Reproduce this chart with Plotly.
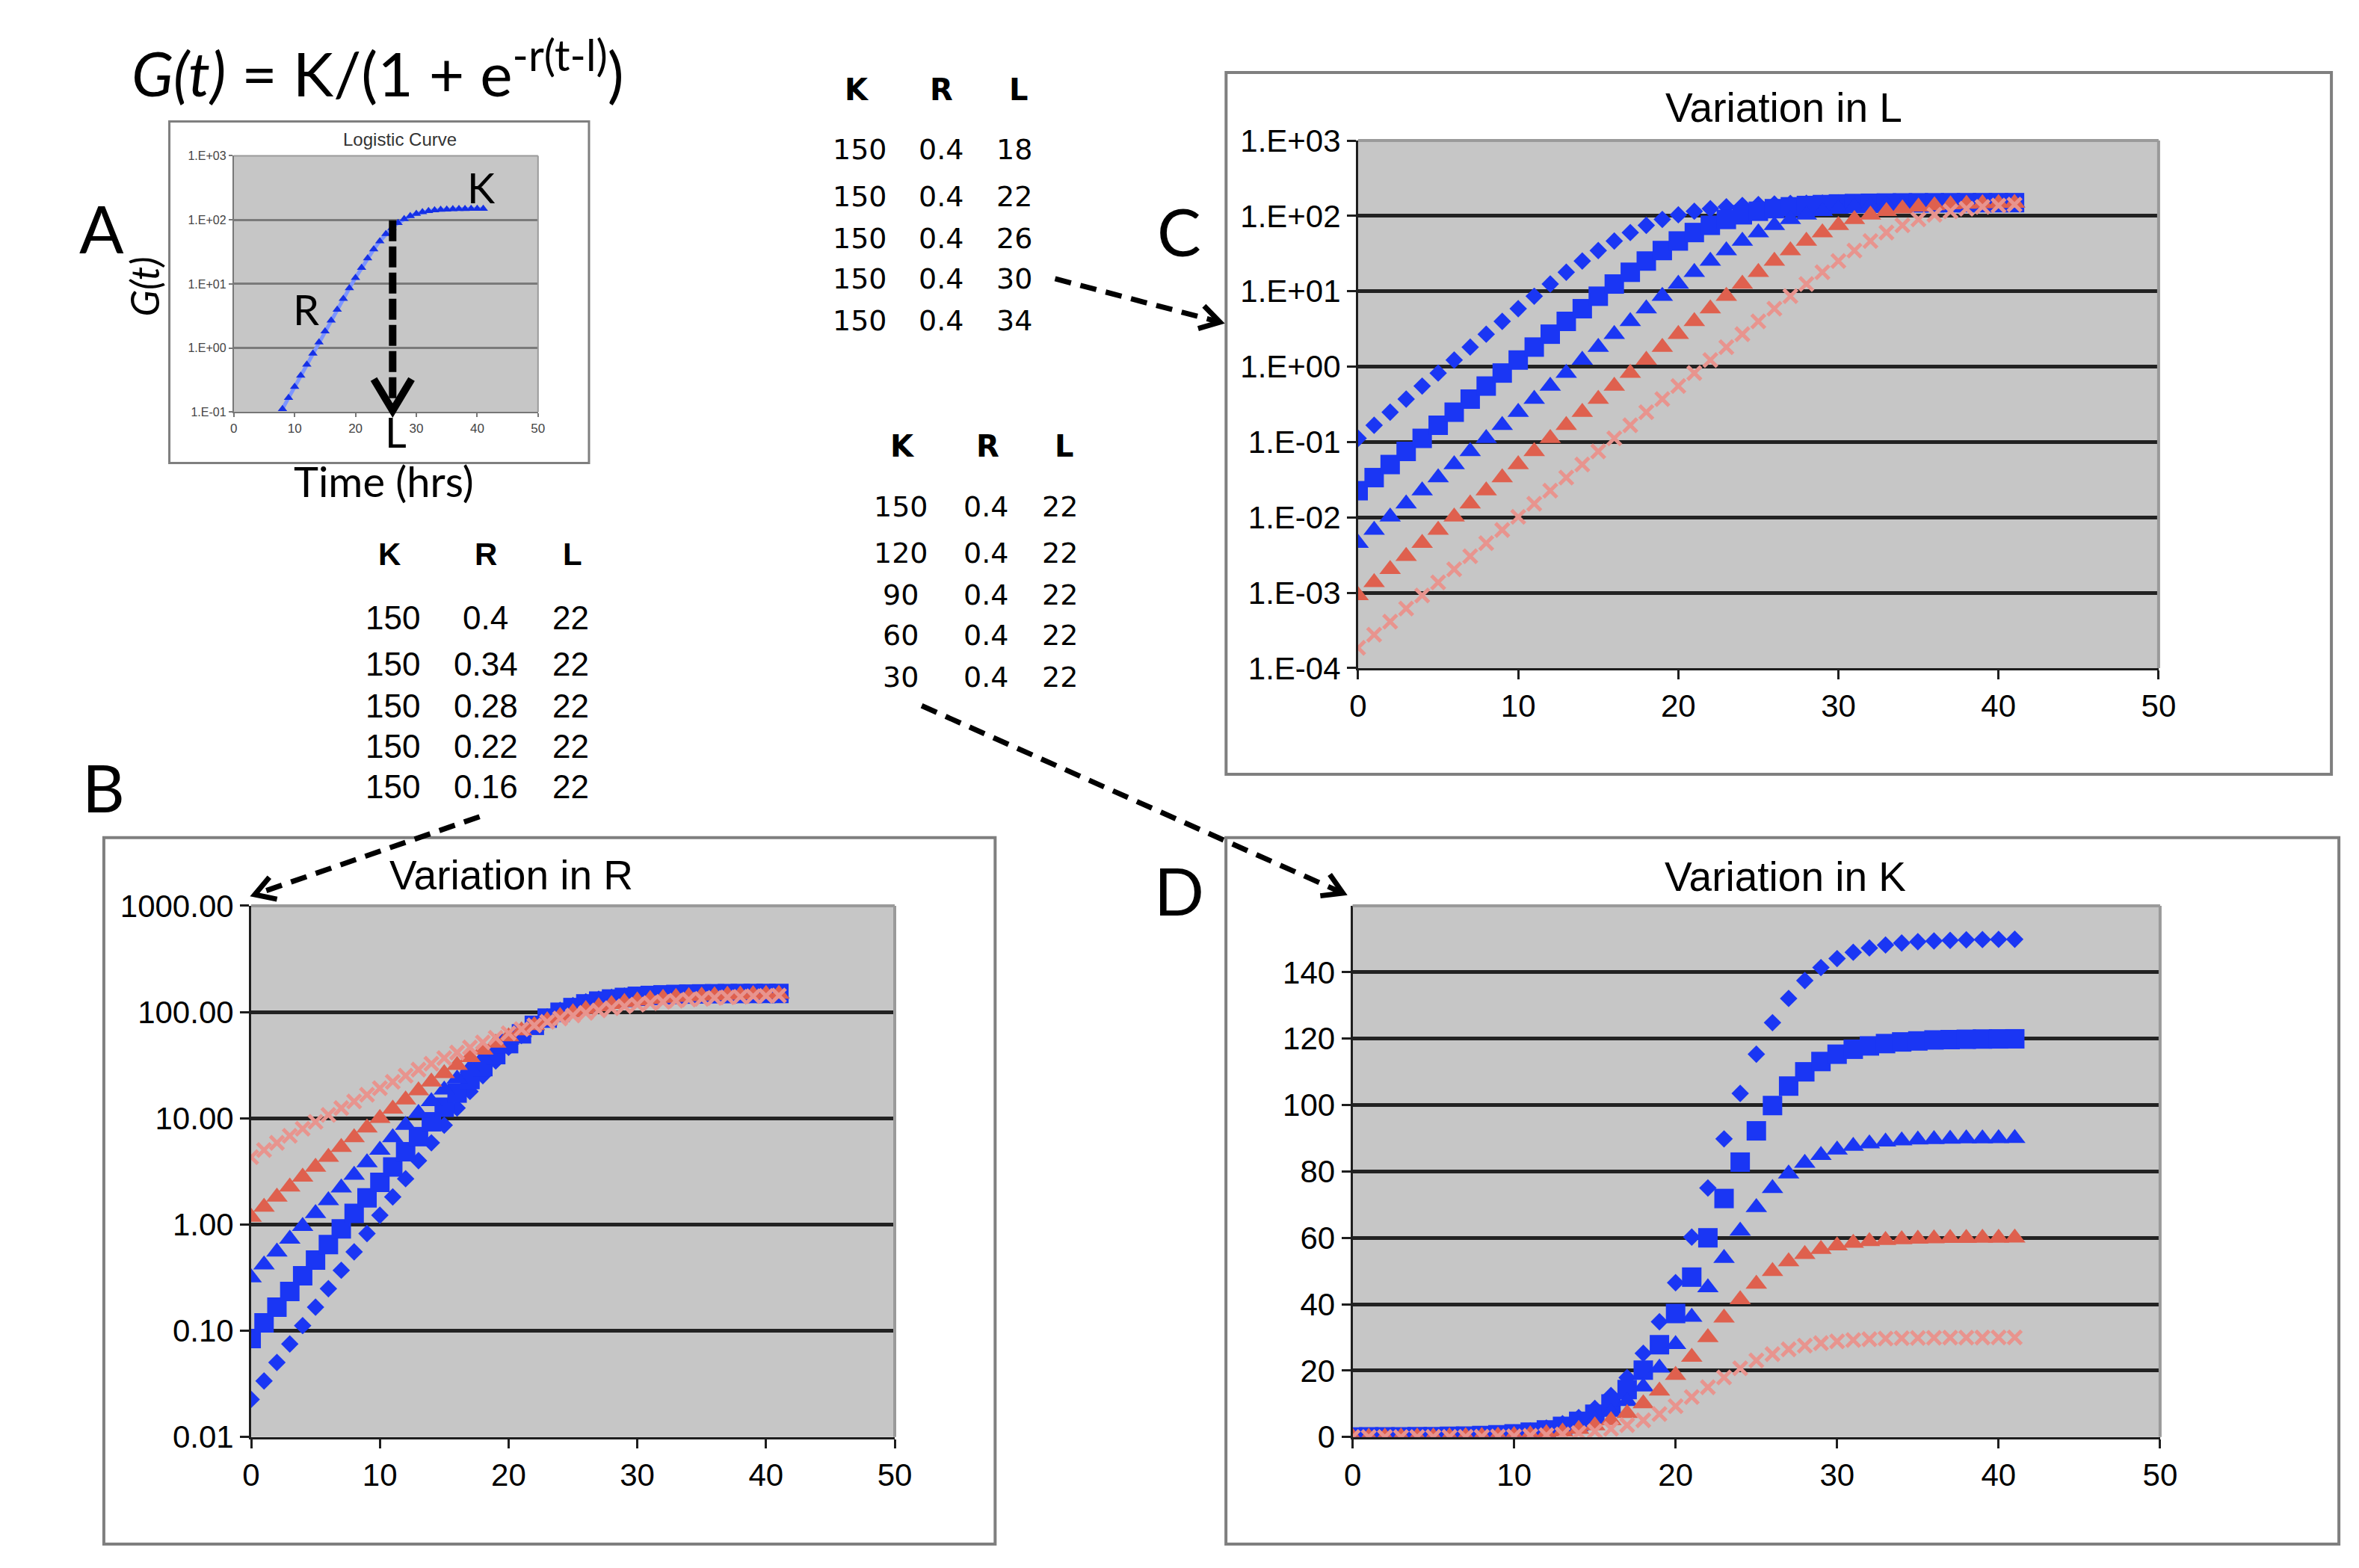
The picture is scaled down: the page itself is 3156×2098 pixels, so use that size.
import math
import plotly.graph_objects as go

# positions are measured on a reduced grid of the 3156 x 2098 page
GW, GH = 1574.0, 1046.4


def px(x):
    return x / GW


def py(y):
    return 1 - y / GH


## time points (hrs)
t = [0, 1, 2, 3, 4, 5, 6, 7, 8, 9, 10, 11, 12, 13, 14, 15, 16, 17, 18, 19, 20,
     21, 22, 23, 24, 25, 26, 27, 28, 29, 30, 31, 32, 33, 34, 35, 36, 37, 38, 39, 40, 41]

## panel A - single logistic curve
a_t = [8, 9, 10, 11, 12, 13, 14, 15, 16, 17, 18, 19, 20, 21, 22, 23, 24, 25, 26,
       27, 28, 29, 30, 31, 32, 33, 34, 35, 36, 37, 38, 39, 40, 41]
a_g = [0.1119, 0.1669, 0.2488, 0.3709, 0.5526, 0.8230, 1.224, 1.819, 2.698, 3.990,
       5.875, 8.599, 12.48, 17.88, 25.20, 34.72, 46.50, 60.20, 75.00, 89.80, 103.5,
       115.3, 124.8, 132.1, 137.5, 141.4, 144.1, 146.0, 147.3, 148.2, 148.8, 149.2,
       149.4, 149.6]

## panel C - variation in L
c_K = [150, 150, 150, 150, 150]
c_R = [0.4, 0.4, 0.4, 0.4, 0.4]
c_L = [18, 22, 26, 30, 34]
gL18 = [0.1119, 0.1669, 0.2488, 0.3709, 0.5526, 0.8230, 1.224, 1.819, 2.698, 3.990,
        5.875, 8.599, 12.48, 17.88, 25.20, 34.72, 46.50, 60.20, 75.00, 89.80, 103.5,
        115.3, 124.8, 132.1, 137.5, 141.4, 144.1, 146.0, 147.3, 148.2, 148.8, 149.2,
        149.4, 149.6, 149.75, 149.83, 149.89, 149.93, 149.95, 149.97, 149.98, 149.985]
gL22 = [0.02261, 0.03372, 0.05030, 0.07503, 0.1119, 0.1669, 0.2488, 0.3709, 0.5526,
        0.8230, 1.224, 1.819, 2.698, 3.990, 5.875, 8.599, 12.48, 17.88, 25.20, 34.72,
        46.50, 60.20, 75.00, 89.80, 103.5, 115.3, 124.8, 132.1, 137.5, 141.4, 144.1,
        146.0, 147.3, 148.2, 148.8, 149.2, 149.4, 149.6, 149.75, 149.83, 149.89, 149.93]
gL26 = [0.004565, 0.006810, 0.01016, 0.01515, 0.02261, 0.03372, 0.05030, 0.07503,
        0.1119, 0.1669, 0.2488, 0.3709, 0.5526, 0.8230, 1.224, 1.819, 2.698, 3.990,
        5.875, 8.599, 12.48, 17.88, 25.20, 34.72, 46.50, 60.20, 75.00, 89.80, 103.5,
        115.3, 124.8, 132.1, 137.5, 141.4, 144.1, 146.0, 147.3, 148.2, 148.8, 149.2,
        149.4, 149.6]
gL30 = [0.000922, 0.001375, 0.002051, 0.003060, 0.004565, 0.006810, 0.01016, 0.01515,
        0.02261, 0.03372, 0.05030, 0.07503, 0.1119, 0.1669, 0.2488, 0.3709, 0.5526,
        0.8230, 1.224, 1.819, 2.698, 3.990, 5.875, 8.599, 12.48, 17.88, 25.20, 34.72,
        46.50, 60.20, 75.00, 89.80, 103.5, 115.3, 124.8, 132.1, 137.5, 141.4, 144.1,
        146.0, 147.3, 148.2]
gL34 = [0.000186, 0.000278, 0.000414, 0.000618, 0.000922, 0.001375, 0.002051, 0.003060,
        0.004565, 0.006810, 0.01016, 0.01515, 0.02261, 0.03372, 0.05030, 0.07503,
        0.1119, 0.1669, 0.2488, 0.3709, 0.5526, 0.8230, 1.224, 1.819, 2.698, 3.990,
        5.875, 8.599, 12.48, 17.88, 25.20, 34.72, 46.50, 60.20, 75.00, 89.80, 103.5,
        115.3, 124.8, 132.1, 137.5, 141.4]

## panel B - variation in R
b_K = [150, 150, 150, 150, 150]
b_R = ["0.4", "0.34", "0.28", "0.22", "0.16"]
b_L = [22, 22, 22, 22, 22]
gR40 = gL22
gR34 = [0.0846, 0.1188, 0.1669, 0.2344, 0.3290, 0.4619, 0.6481, 0.9090, 1.274, 1.784,
        2.494, 3.480, 4.844, 6.718, 9.271, 12.71, 17.26, 23.17, 30.64, 39.75, 50.44,
        62.37, 75.00, 87.63, 99.56, 110.2, 119.4, 126.8, 132.7, 137.3, 140.7, 143.3,
        145.2, 146.5, 147.5, 148.2, 148.7, 149.1, 149.4, 149.5, 149.7, 149.8]
gR28 = [0.3162, 0.4181, 0.5526, 0.7304, 0.9648, 1.274, 1.681, 2.216, 2.918, 3.837,
        5.035, 6.591, 8.599, 11.17, 14.43, 18.52, 23.56, 29.67, 36.90, 45.23, 54.53,
        64.57, 75.00, 85.43, 95.47, 104.8, 113.1, 120.3, 126.4, 131.5, 135.6, 138.8,
        141.4, 143.4, 145.0, 146.2, 147.1, 147.8, 148.3, 148.7, 149.0, 149.3]
gR22 = [1.177, 1.464, 1.819, 2.260, 2.806, 3.480, 4.312, 5.336, 6.591, 8.125, 9.991,
        12.25, 14.96, 18.20, 22.02, 26.48, 31.62, 37.46, 43.98, 51.11, 58.76, 66.78,
        75.00, 83.22, 91.24, 98.89, 106.0, 112.5, 118.4, 123.5, 128.0, 131.8, 135.0,
        137.8, 140.0, 141.9, 143.4, 144.7, 145.7, 146.5, 147.2, 147.7]
gR16 = [4.312, 5.035, 5.875, 6.848, 7.973, 9.271, 10.76, 12.48, 14.43, 16.66, 19.18,
        22.02, 25.20, 28.73, 32.63, 36.90, 41.53, 46.50, 51.79, 57.34, 63.10, 69.01,
        75.00, 80.99, 86.90, 92.66, 98.21, 103.5, 108.5, 113.1, 117.4, 121.3, 124.8,
        128.0, 130.8, 133.3, 135.6, 137.5, 139.2, 140.7, 142.0, 143.2]

## panel D - variation in K
d_K = [150, 120, 90, 60, 30]
d_R = [0.4, 0.4, 0.4, 0.4, 0.4]
d_L = [22, 22, 22, 22, 22]
gK150 = gL22
gK120 = [0.0181, 0.0270, 0.0402, 0.0600, 0.0895, 0.1335, 0.1990, 0.2967, 0.4421,
         0.6584, 0.9795, 1.455, 2.158, 3.192, 4.700, 6.879, 9.981, 14.30, 20.16, 27.78,
         37.20, 48.16, 60.00, 71.84, 82.80, 92.22, 99.84, 105.7, 110.0, 113.1, 115.3,
         116.8, 117.8, 118.5, 119.0, 119.3, 119.6, 119.7, 119.8, 119.87, 119.91, 119.94]
gK90 = [0.0136, 0.0202, 0.0302, 0.0450, 0.0671, 0.1001, 0.1493, 0.2225, 0.3316, 0.4938,
        0.7346, 1.092, 1.619, 2.394, 3.525, 5.159, 7.486, 10.73, 15.12, 20.83, 27.90,
        36.12, 45.00, 53.88, 62.10, 69.17, 74.88, 79.27, 82.51, 84.84, 86.48, 87.61,
        88.38, 88.91, 89.27, 89.51, 89.67, 89.78, 89.85, 89.90, 89.93, 89.96]
gK60 = [0.0090, 0.0135, 0.0201, 0.0300, 0.0448, 0.0668, 0.0995, 0.1484, 0.2211, 0.3292,
        0.4898, 0.7277, 1.079, 1.596, 2.350, 3.439, 4.990, 7.152, 10.08, 13.89, 18.60,
        24.08, 30.00, 35.92, 41.40, 46.11, 49.92, 52.85, 55.01, 56.56, 57.65, 58.40,
        58.92, 59.27, 59.51, 59.67, 59.78, 59.85, 59.90, 59.93, 59.96, 59.97]
gK30 = [0.0045, 0.0067, 0.0101, 0.0150, 0.0224, 0.0334, 0.0498, 0.0742, 0.1105, 0.1646,
        0.2449, 0.3639, 0.5396, 0.7979, 1.175, 1.720, 2.495, 3.576, 5.039, 6.944, 9.301,
        12.04, 15.00, 17.96, 20.70, 23.06, 24.96, 26.42, 27.51, 28.28, 28.83, 29.20,
        29.46, 29.64, 29.76, 29.84, 29.89, 29.93, 29.95, 29.97, 29.98, 29.99]

BLUE = "#1a36f4"
RED = "#df604e"
PINK = "#e8948e"
GRAY_BG = "#c6c6c6"
ARIAL = "Liberation Sans, Arial"
CALIBRI = "Lato, Open Sans"

styles = [
    dict(symbol="diamond", size=18, color=BLUE, line=dict(width=0)),
    dict(symbol="square", size=26, color=BLUE, line=dict(width=0)),
    dict(symbol="triangle-up", size=25, color=BLUE, line=dict(width=0)),
    dict(symbol="triangle-up", size=25, color=RED, line=dict(width=0)),
    dict(symbol="x-thin", size=18, color=PINK, line=dict(width=5, color=PINK)),
]

fig = go.Figure()

# A
fig.add_trace(go.Scatter(x=a_t, y=a_g, mode="lines+markers", xaxis="x", yaxis="y",
                         line=dict(color="#7d95ff", width=5),
                         marker=dict(symbol="triangle-up", size=11, color="#1530e6")))

for ys, st in zip([gR40, gR34, gR28, gR22, gR16], styles):
    fig.add_trace(go.Scatter(x=t, y=ys, mode="markers", marker=st, xaxis="x2", yaxis="y2"))
for ys, st in zip([gL18, gL22, gL26, gL30, gL34], styles):
    fig.add_trace(go.Scatter(x=t, y=ys, mode="markers", marker=st, xaxis="x3", yaxis="y3"))
for ys, st in zip([gK150, gK120, gK90, gK60, gK30], styles):
    fig.add_trace(go.Scatter(x=t, y=ys, mode="markers", marker=st, xaxis="x4", yaxis="y4"))


def dom_x(x0, x1):
    return [px(x0), px(x1)]


def dom_y(y0, y1):
    return [py(y1), py(y0)]


def xax(dom, anchor, size=42, color="black", line="#1e1e1e", tl=12, tw=3):
    return dict(domain=dom, anchor=anchor, range=[0, 50], tickvals=[0, 10, 20, 30, 40, 50],
                ticks="outside", ticklen=tl, tickwidth=tw, tickcolor=line,
                showline=True, linecolor=line, linewidth=tw, showgrid=False,
                zeroline=False, automargin=False, fixedrange=True,
                tickfont=dict(family=ARIAL, size=size, color=color))


def yax(dom, anchor, rng, vals, texts, log=True, size=42, color="black",
        line="#1e1e1e", grid="#222222", gw=5, tl=12, tw=3):
    d = dict(domain=dom, anchor=anchor, range=rng, tickvals=vals, ticktext=texts,
             ticks="outside", ticklen=tl, tickwidth=tw, tickcolor=line,
             showline=True, linecolor=line, linewidth=tw, showgrid=True,
             gridcolor=grid, gridwidth=gw, zeroline=False, automargin=False,
             fixedrange=True, tickfont=dict(family=ARIAL, size=size, color=color))
    if log:
        d["type"] = "log"
    return d


c_ticks = [1e-4, 1e-3, 1e-2, 1e-1, 1, 10, 100, 1000]
c_text = ["1.E-04", "1.E-03", "1.E-02", "1.E-01", "1.E+00", "1.E+01", "1.E+02", "1.E+03"]
b_ticks = [0.01, 0.1, 1, 10, 100, 1000]
b_text = ["0.01", "0.10", "1.00", "10.00", "100.00", "1000.00"]
a_ticks = [0.1, 1, 10, 100, 1000]
a_text = ["1.E-01", "1.E+00", "1.E+01", "1.E+02", "1.E+03"]
d_ticks = [0, 20, 40, 60, 80, 100, 120, 140]

fig.update_layout(
    width=3156, height=2098, margin=dict(l=0, r=0, t=0, b=0),
    paper_bgcolor="white", plot_bgcolor=GRAY_BG, showlegend=False,
    xaxis=xax(dom_x(152, 355), "y", size=17, color="#444", line="#777", tl=5, tw=2),
    yaxis=yax(dom_y(100, 271), "x", [-1, 3], a_ticks, a_text, size=16, color="#444",
              line="#777", grid="#7a7a7a", gw=3, tl=5, tw=2),
    xaxis2=xax(dom_x(163.6, 593), "y2"),
    yaxis2=yax(dom_y(600.5, 955), "x2", [-2, 3], b_ticks, b_text),
    xaxis3=xax(dom_x(902.2, 1436.3), "y3"),
    yaxis3=yax(dom_y(89.8, 441.9), "x3", [-4, 3], c_ticks, c_text),
    xaxis4=xax(dom_x(898.5, 1437.3), "y4"),
    yaxis4=yax(dom_y(600.5, 955), "x4", [0, 160], d_ticks, [str(v) for v in d_ticks], log=False),
)

# outer chart boxes
for x0, y0, x1, y1, w in [(109, 77, 389, 305, 3), (65.3, 555, 660, 1026.4, 4),
                          (814.1, 44.4, 1551.6, 512.7, 4), (814, 555, 1556.6, 1026.4, 4)]:
    fig.add_shape(type="rect", xref="paper", yref="paper", x0=px(x0), x1=px(x1),
                  y0=py(y1), y1=py(y0), line=dict(color="#7f7f7f", width=w),
                  fillcolor="rgba(0,0,0,0)", layer="below")

# plot area border on top and right
for k in ["", "2", "3", "4"]:
    for (x0, y0, x1, y1) in [(0, 1, 1, 1), (1, 0, 1, 1)]:
        fig.add_shape(type="line", xref="x%s domain" % k, yref="y%s domain" % k,
                      x0=x0, y0=y0, x1=x1, y1=y1,
                      line=dict(color="#9a9a9a", width=4 if k else 2))


def note(text, x, y, size, family=ARIAL, color="black", angle=0, xanchor="center"):
    fig.add_annotation(text=text, x=px(x), y=py(y), xref="paper", yref="paper",
                       showarrow=False, xanchor=xanchor, yanchor="middle",
                       textangle=angle, font=dict(family=family, size=size, color=color))


# titles
note("Variation in R", 337, 580, 55)
note("Variation in L", 1186, 68, 55)
note("Variation in K", 1187, 581, 55)
note("Logistic Curve", 263, 89, 24, color="#333")

# formula and labels
note("<i>G(t)</i> = K/(1 + e<sup>-r(t-l)</sup>)", 83, 42, 82, family=CALIBRI, xanchor="left")
note("A", 64, 148, 88, family=CALIBRI)
note("B", 65, 521, 88, family=CALIBRI)
note("C", 783, 150, 88, family=CALIBRI)
note("D", 783, 590, 88, family=CALIBRI)
note("<i>G(t)</i>", 92, 187, 52, family=CALIBRI, angle=-90)
note("K", 317, 121, 56, family=CALIBRI)
note("R", 200, 202, 56, family=CALIBRI)
note("L", 260, 284, 56, family=CALIBRI)
note("Time (hrs)", 252, 317, 56, family=CALIBRI)

# parameter tables
VERD = "DejaVu Sans, Verdana"
for x, h in zip([568, 624, 676], ["K", "R", "L"]):
    note("<b>%s</b>" % h, x, 56, 40, family=VERD)
for i, y in enumerate([96, 127, 155, 182, 210]):
    note(str(c_K[i]), 570, y, 38, family=VERD)
    note(str(c_R[i]), 624, y, 38, family=VERD)
    note(str(c_L[i]), 673, y, 38, family=VERD)

for x, h in zip([598, 655, 706], ["K", "R", "L"]):
    note("<b>%s</b>" % h, x, 294, 40, family=VERD)
for i, y in enumerate([334, 365, 393, 420, 448]):
    note(str(d_K[i]), 597, y, 38, family=VERD)
    note(str(d_R[i]), 654, y, 38, family=VERD)
    note(str(d_L[i]), 703, y, 38, family=VERD)

for x, h in zip([256, 320, 378], ["K", "R", "L"]):
    note("<b>%s</b>" % h, x, 366, 42)
for i, y in enumerate([408, 439, 467, 494, 521]):
    note(str(b_K[i]), 258, y, 44)
    note(b_R[i], 320, y, 44)
    note(str(b_L[i]), 377, y, 44)


def dashed_arrow(x0, y0, x1, y1, width=6, head=13, dash="22px,13px"):
    fig.add_shape(type="line", xref="paper", yref="paper", x0=px(x0), y0=py(y0),
                  x1=px(x1), y1=py(y1), line=dict(color="black", width=width, dash=dash))
    n = math.hypot(x1 - x0, y1 - y0)
    ux, uy = (x1 - x0) / n, (y1 - y0) / n
    bx, by = x1 - head * ux, y1 - head * uy
    lx, ly = bx - 0.6 * head * uy, by + 0.6 * head * ux
    rx, ry = bx + 0.6 * head * uy, by - 0.6 * head * ux
    path = "M %f,%f L %f,%f L %f,%f" % (px(lx), py(ly), px(x1), py(y1), px(rx), py(ry))
    fig.add_shape(type="path", path=path, xref="paper", yref="paper",
                  line=dict(color="black", width=width))


dashed_arrow(700, 182, 810, 211, width=7)
dashed_arrow(611, 467, 892, 592, width=7)
dashed_arrow(316, 541, 166, 593, width=7)
dashed_arrow(258, 143, 258, 270, width=10, head=21, dash="28px,7px")

fig.write_html("out.html")
